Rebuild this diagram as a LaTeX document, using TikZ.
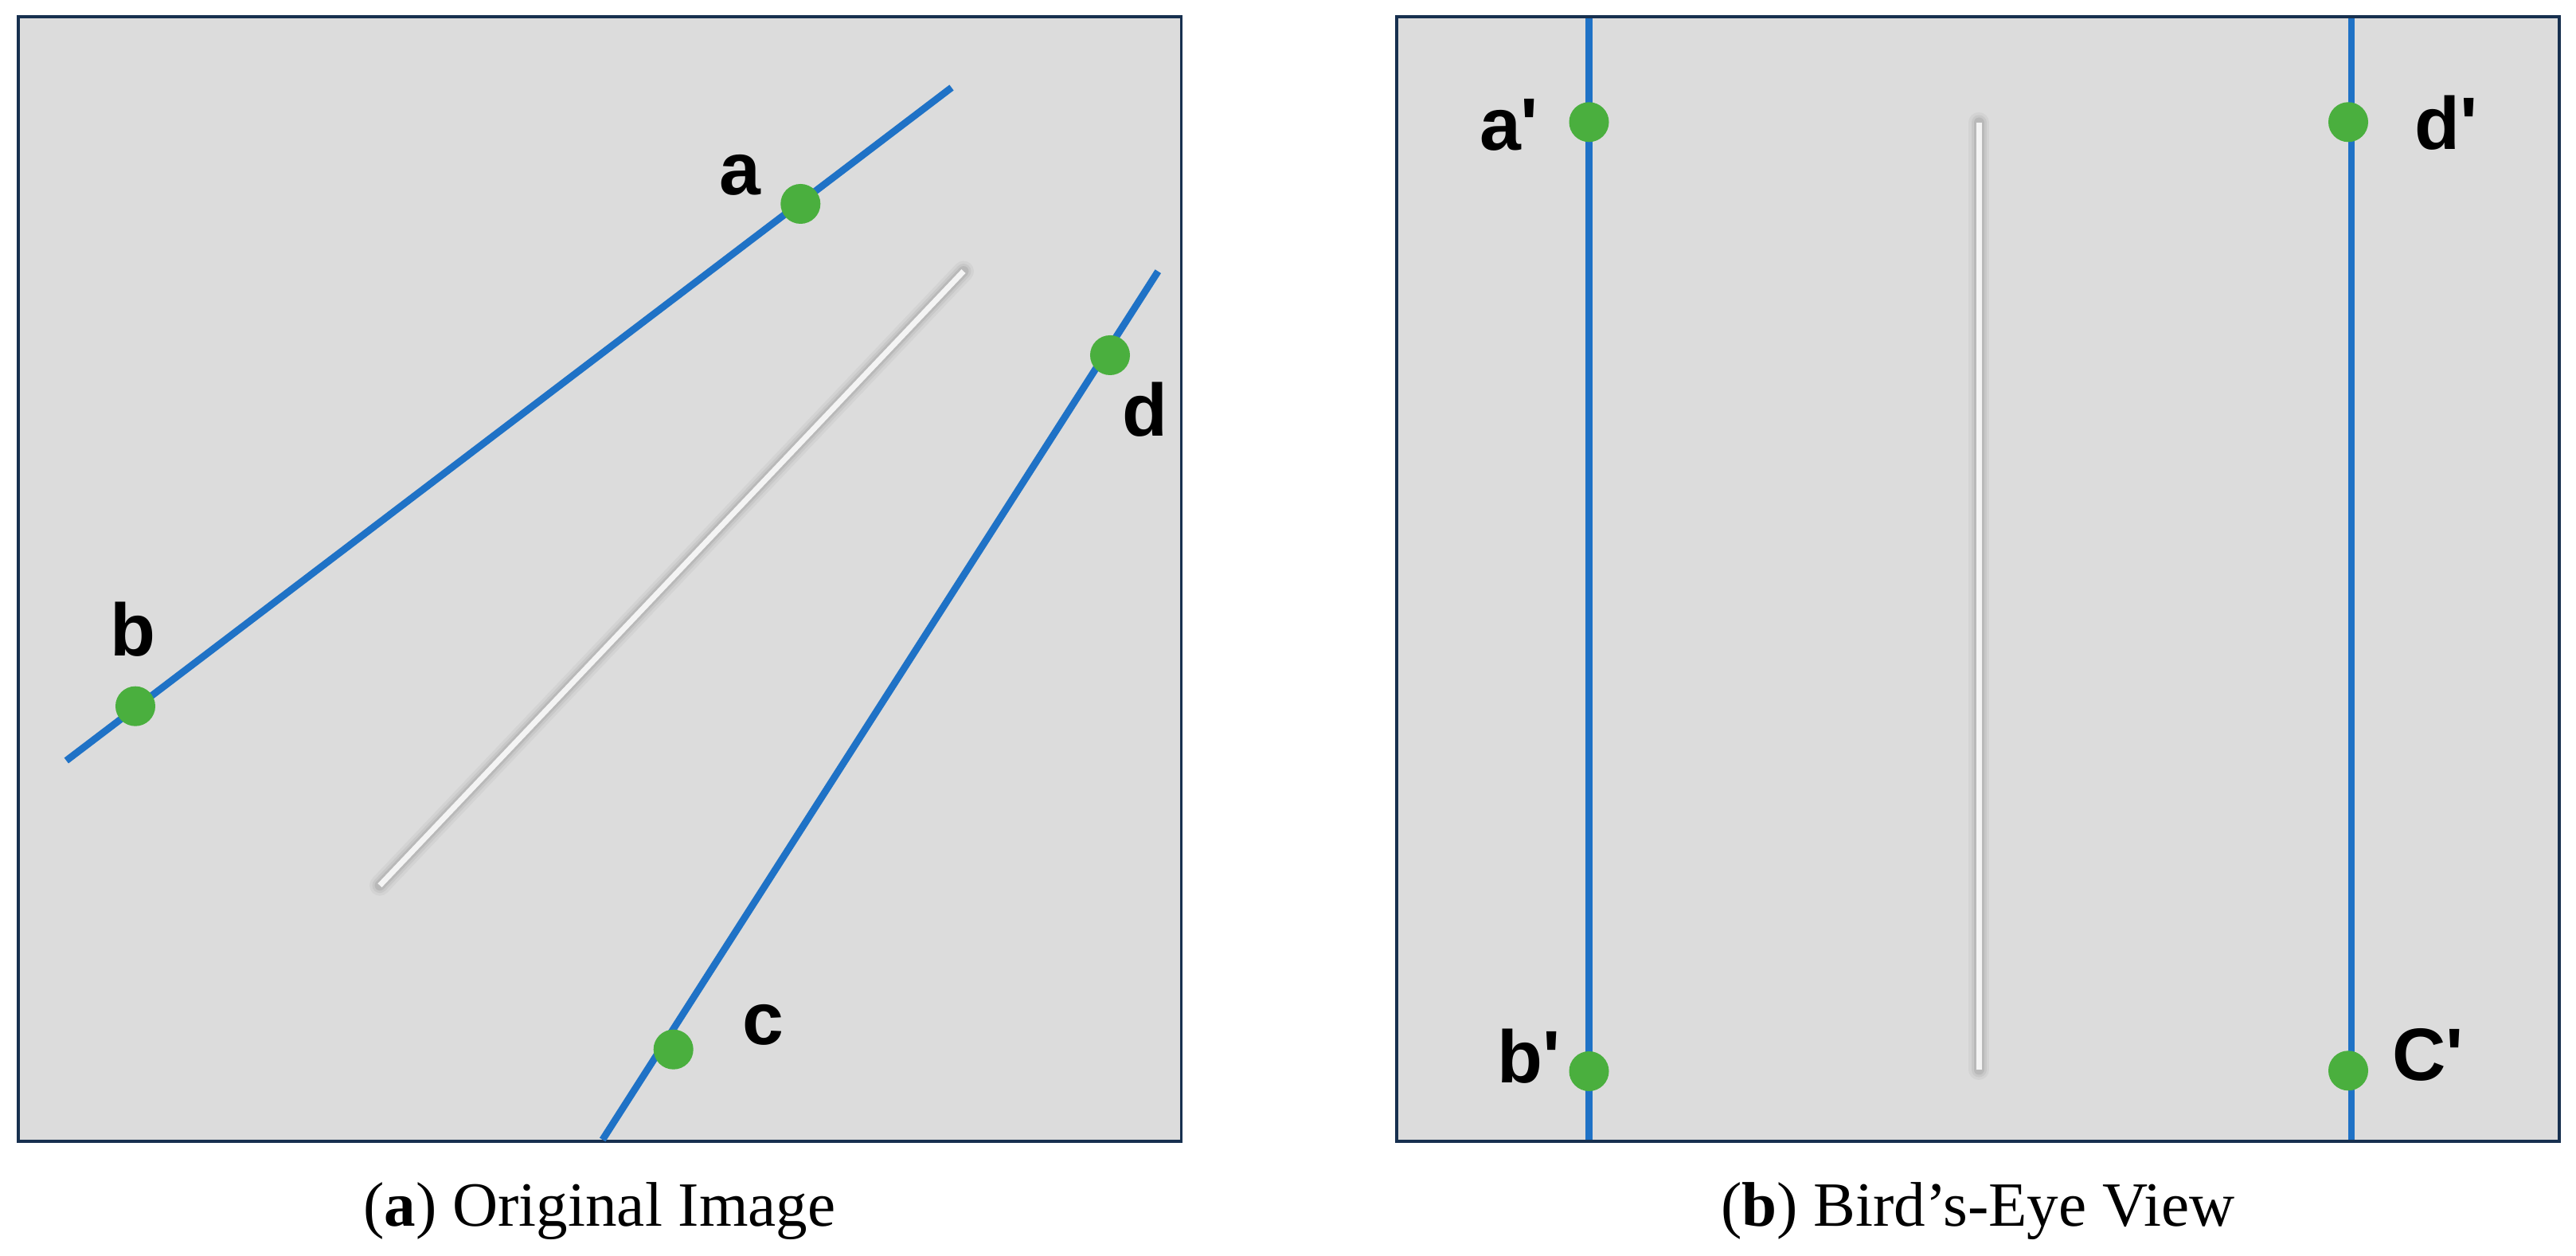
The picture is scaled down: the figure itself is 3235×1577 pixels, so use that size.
\documentclass[tikz,border=0pt]{standalone}
\usepackage{fontspec}
\setmainfont{Liberation Serif}
\newfontfamily\lblfont{Liberation Sans}[Ligatures=TeXOff]
\definecolor{panelfill}{HTML}{DCDCDC}
\definecolor{panelborder}{HTML}{17304F}
\definecolor{lineblue}{HTML}{1F72C6}
\definecolor{dotgreen}{HTML}{4AAF3E}
\definecolor{lanewhite}{HTML}{F4F4F4}
\begin{document}
\begin{tikzpicture}[x=0.01cm,y=-0.01cm,
  panel/.style={draw=panelborder, line width=0.037cm, fill=panelfill},
  blueline/.style={draw=lineblue, line width=0.088cm},
  dot/.style={circle, fill=dotgreen, inner sep=0pt, minimum size=0.5cm},
  lbl/.style={font=\lblfont\bfseries\fontsize{26.5}{31}\selectfont, inner sep=0pt},
  captext/.style={font=\fontsize{22.5}{27}\selectfont, anchor=base, inner sep=0pt},
  shadeA/.style={draw=black, opacity=0.04, line width=0.26cm, line cap=round},
  shadeB/.style={draw=black, opacity=0.05, line width=0.19cm, line cap=round},
  shadeC/.style={draw=black, opacity=0.07, line width=0.13cm, line cap=round},
  lane/.style={draw=lanewhite, line width=0.07cm}]
\useasboundingbox (0,0) rectangle (3235,1577);
\fill[white] (0,0) rectangle (3235,1577);

% ---------- panel (a) ----------
\path[panel] (23,21) rectangle (1483.5,1433);
\coordinate (w1s) at (477,1111.7);
\coordinate (w1e) at (1210,340.6);
\draw[shadeA] (w1s) -- (w1e);
\draw[shadeB] (w1s) -- (w1e);
\draw[shadeC] (w1s) -- (w1e);
\draw[lane] (w1s) -- (w1e);

\coordinate (ab1) at (83.3,955);
\coordinate (ab2) at (1195,110);
\coordinate (cd1) at (756.7,1431);
\coordinate (cd2) at (1454.3,340.7);
\draw[blueline] (ab1) -- (ab2);
\draw[blueline] (cd1) -- (cd2);

\node[dot] (a) at (1005.3,256) {};
\node[dot] (b) at (170,886.7) {};
\node[dot] (c) at (845.7,1317.7) {};
\node[dot] (d) at (1394,446) {};

\node[lbl] (la) at (929.6,219.7) {a};
\node[lbl] (lb) at (166.7,790) {b};
\node[lbl] (lc) at (958.3,1286.5) {c};
\node[lbl] (ld) at (1437.5,514.3) {d};

\node[captext] (capa) at (753,1540) {(\textbf{a}) Original Image};

% ---------- panel (b) ----------
\path[panel] (1754,21) rectangle (3214,1433);
\coordinate (w2s) at (2485,1343);
\coordinate (w2e) at (2485,154);
\draw[shadeA] (w2s) -- (w2e);
\draw[shadeB] (w2s) -- (w2e);
\draw[shadeC] (w2s) -- (w2e);
\draw[lane] (w2s) -- (w2e);

\coordinate (l1t) at (1995.5,23);
\coordinate (l1b) at (1995.5,1431);
\coordinate (l2t) at (2953,23);
\coordinate (l2b) at (2953,1431);
\draw[blueline] (l1t) -- (l1b);
\draw[blueline] (l2t) -- (l2b);

\node[dot] (ap) at (1995.5,153.3) {};
\node[dot] (bp) at (1995.5,1345) {};
\node[dot] (dp) at (2949,153.3) {};
\node[dot] (cp) at (2949,1344.3) {};

\node[lbl] (lap) at (1895,156.8) {a'};
\node[lbl] (lbp) at (1919.6,1326.5) {b'};
\node[lbl] (ldp) at (3072,154.7) {d'};
\node[lbl] (lcp) at (3049,1324.5) {C'};

\node[captext] (capb) at (2484,1540) {(\textbf{b}) Bird’s-Eye View};
\end{tikzpicture}
\end{document}
